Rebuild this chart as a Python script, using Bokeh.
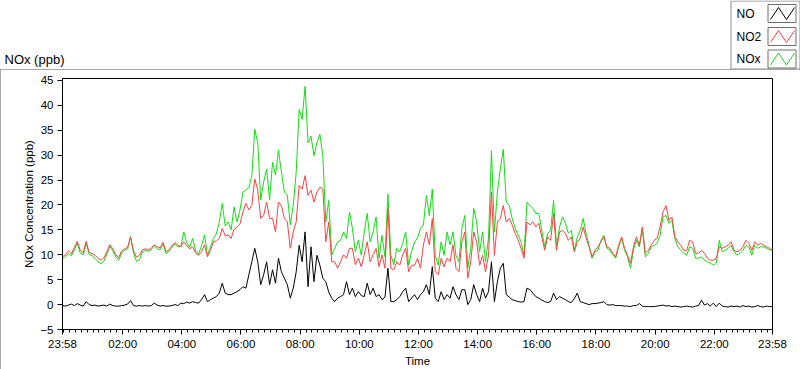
from bokeh.plotting import figure
from bokeh.models import Range1d, FixedTicker
from bokeh.core.properties import value
from bokeh.embed import file_html
from bokeh.resources import INLINE

# ---- data: minutes since 23:58, sampled every 6 minutes ----
minutes = list(range(0, 1441, 6))

no2 = [9.6,10.0,10.8,10.2,11.5,12.7,10.9,10.4,12.7,10.5,10.2,9.9,9.3,8.9,9.4,10.6,12.0,11.2,10.0,9.4,
       10.8,11.2,11.5,13.5,10.8,9.5,9.9,11.0,11.2,11.0,11.3,12.0,11.6,11.4,12.5,10.6,11.0,11.8,12.5,11.9,
       11.6,12.6,11.8,11.2,11.6,10.4,9.9,10.6,12.0,9.6,10.9,12.6,12.8,13.3,15.3,13.8,14.0,13.3,15.1,15.6,
       16.2,18.6,20.3,19.0,19.9,25.2,23.0,17.3,17.9,20.6,17.3,17.3,14.6,20.6,19.9,17.3,16.6,11.3,14.6,16.6,
       23.9,23.2,25.9,21.9,23.0,20.6,22.6,23.6,23.2,12.6,16.6,8.6,8.6,7.3,8.6,10.0,9.3,11.3,11.3,8.0,
       9.3,7.6,10.0,12.6,8.6,10.0,11.3,7.6,10.0,7.3,19.3,7.3,7.0,8.6,7.9,10.0,11.3,6.6,7.9,7.9,
       9.3,7.3,12.0,14.6,12.0,17.3,6.6,6.0,9.3,7.6,9.3,8.6,12.0,7.3,6.6,12.6,14.6,5.3,8.6,14.6,
       12.6,7.9,9.9,6.6,9.9,22.6,9.9,16.6,17.3,19.9,16.6,17.3,16.0,14.3,13.0,11.3,9.3,16.6,16.0,16.6,
       15.6,16.3,13.6,10.9,13.6,12.9,18.3,10.9,14.6,14.9,14.3,12.9,13.6,10.6,12.5,13.3,15.6,13.3,11.6,9.6,
       10.9,11.6,12.6,13.6,11.6,11.3,10.3,9.6,11.9,13.6,11.3,9.9,8.3,11.6,13.6,11.9,15.6,10.3,10.9,11.9,
       12.9,13.3,15.6,18.6,19.9,16.9,17.6,13.6,12.6,11.9,10.9,10.9,12.9,12.6,10.3,10.3,10.9,10.3,9.3,8.9,
       8.9,9.3,11.6,11.3,11.6,11.9,12.6,10.9,10.6,10.9,11.6,12.9,12.3,10.9,12.6,11.9,12.3,11.9,11.6,11.3,10.9]

nox = [9.3,9.6,10.2,9.8,11.0,12.3,10.3,10.0,12.4,10.1,9.8,9.3,8.6,8.2,8.7,10.2,11.7,10.8,9.6,8.9,
       10.4,10.9,11.2,13.7,10.4,8.7,9.0,10.6,10.9,10.7,11.0,11.8,11.2,11.0,12.2,10.2,10.7,11.5,12.2,11.6,
       11.7,14.6,12.4,11.5,13.3,10.8,10.1,11.8,14.0,9.9,11.5,13.3,14.2,16.6,20.3,15.8,16.6,15.0,19.6,16.6,
       19.0,22.6,23.0,23.5,25.9,35.2,32.5,21.0,24.6,27.2,21.0,28.6,26.0,31.0,26.6,22.6,22.0,16.0,20.0,26.6,
       39.2,37.2,43.8,32.5,33.8,29.9,32.5,34.2,29.9,16.6,20.9,10.0,11.3,12.6,12.9,14.6,13.3,18.6,15.3,10.6,
       12.9,9.9,14.6,18.3,12.6,14.6,17.6,9.3,13.9,9.6,22.2,9.9,8.0,11.3,10.6,12.3,14.6,7.9,10.6,12.6,
       13.3,15.3,16.0,21.9,17.9,23.2,9.9,7.9,12.6,9.9,14.6,12.0,14.6,9.9,8.6,15.3,17.9,7.3,11.3,19.3,
       16.6,10.6,14.6,8.6,13.3,30.9,14.6,22.6,27.2,31.2,20.6,19.9,17.3,15.3,14.0,12.6,9.9,20.6,19.9,19.3,
       18.3,18.3,14.9,11.6,14.3,14.9,20.9,11.6,15.6,17.6,16.3,14.3,14.9,10.9,13.5,14.9,17.3,14.3,11.9,9.3,
       10.6,10.9,12.9,13.9,11.3,10.9,10.0,9.3,11.6,13.3,10.9,9.6,7.3,11.0,12.9,11.6,15.3,9.6,10.3,11.6,
       11.9,12.3,13.9,17.6,17.9,16.3,16.9,13.3,11.6,10.9,10.3,9.9,11.6,11.3,9.3,9.3,9.6,8.9,8.6,8.3,
       7.9,8.3,12.9,10.6,10.9,11.3,11.9,10.6,9.9,10.3,10.9,11.9,11.6,9.9,11.9,11.3,11.6,11.6,11.3,11.0,10.9]

no = [-0.2,-0.3,-0.1,0.1,-0.2,0.2,-0.1,-0.3,0.6,0.0,-0.2,-0.1,-0.3,-0.2,-0.1,-0.3,0.1,-0.2,-0.3,-0.3,
      -0.2,-0.1,0.1,0.8,-0.2,-0.3,-0.2,-0.3,-0.2,-0.3,-0.2,0.3,-0.1,-0.3,-0.2,-0.3,-0.3,-0.2,0.0,-0.2,
      0.3,0.2,0.5,0.3,0.6,0.4,0.3,1.0,2.0,0.6,1.0,1.3,1.6,2.3,4.3,2.3,2.0,2.0,2.3,2.6,
      3.0,3.6,3.3,6.0,8.6,11.3,8.6,4.0,6.0,8.6,4.0,7.0,4.3,9.3,6.6,5.3,4.0,1.3,3.3,6.6,
      11.9,8.6,14.6,3.6,11.6,4.6,9.9,7.9,5.3,4.6,2.5,1.3,0.6,1.3,1.6,2.0,4.6,2.0,3.3,1.6,
      2.6,1.8,1.6,4.3,2.0,3.3,1.6,2.0,1.0,1.5,7.3,0.6,0.6,1.0,1.6,2.6,3.3,0.6,1.3,2.0,
      1.0,2.0,2.6,4.0,2.0,7.6,1.3,0.6,2.6,1.0,2.0,1.3,3.6,2.0,1.0,3.0,3.0,0.0,1.0,4.0,
      2.0,0.6,3.3,1.3,2.6,8.6,0.6,4.6,7.3,8.3,2.0,1.5,1.0,0.8,0.6,0.5,0.6,3.3,3.0,2.3,
      1.6,1.3,0.9,0.6,0.4,0.6,2.3,1.0,1.6,1.3,1.0,0.6,0.4,1.2,2.3,0.6,0.4,0.2,0.0,0.2,
      0.2,0.3,0.4,0.6,0.0,-0.1,0.0,-0.2,-0.2,-0.2,-0.3,-0.3,-0.4,-0.2,-0.2,0.2,-0.3,-0.4,-0.4,-0.4,
      -0.4,-0.3,-0.2,-0.1,-0.3,-0.2,-0.4,-0.3,-0.4,-0.5,-0.4,-0.3,-0.4,-0.5,-0.3,-0.2,0.9,-0.1,0.2,-0.3,
      0.3,-0.4,0.3,-0.3,-0.4,-0.5,-0.3,-0.4,-0.3,-0.5,-0.2,-0.4,-0.3,-0.5,-0.4,-0.2,-0.4,-0.5,-0.3,-0.4,-0.4]

assert len(no2) == len(minutes) and len(nox) == len(minutes) and len(no) == len(minutes)

tick_minutes = [0, 122, 242, 362, 482, 602, 722, 842, 962, 1082, 1202, 1322, 1440]
tick_labels = ["23:58", "02:00", "04:00", "06:00", "08:00", "10:00", "12:00",
               "14:00", "16:00", "18:00", "20:00", "22:00", "23:58"]
minor_minutes = list(range(2, 1440, 12))
y_ticks = [-5, 0, 5, 10, 15, 20, 25, 30, 35, 40, 45]

series_names = ["NO", "NO2", "NOx"]
series_colors = ["#000000", "#ff4040", "#10e010"]
chart_name = "NOx (ppb)"

FONT = "Liberation Sans"
FS = "11.5px"
PANEL = "#8c8c8c"

# ---------------- top strip: chart name + plot legend (its own root) ----------------
top = figure(width=800, height=69, output_backend="svg", toolbar_location=None,
             x_range=Range1d(0, 800), y_range=Range1d(69, 0),
             x_axis_type=None, y_axis_type=None, min_border=0)
top.grid.visible = False
top.outline_line_color = None
top.background_fill_color = "white"
top.border_fill_color = "white"

top.text(x=[4], y=[59], text=[chart_name], text_font=value(FONT), text_font_size=value("13px"),
         text_baseline="middle", text_align="left", text_color="black")

top.quad(left=[730.5], right=[799.5], top=[0.5], bottom=[68.5],
         fill_color="white", line_color=PANEL, line_width=1)
row_y = [13.0, 36.0, 58.5]
top.text(x=[736] * 3, y=row_y, text=series_names, text_font=value(FONT),
         text_font_size=value("12px"), text_baseline="middle", text_align="left", text_color="black")
top.quad(left=[767.5] * 3, right=[795.5] * 3, top=[c - 9 for c in row_y], bottom=[c + 9 for c in row_y],
         fill_color="white", line_color="#6e6e6e", line_width=1)
top.multi_line(xs=[[770, 778, 786, 794] for _ in row_y],
               ys=[[c + 6, c - 6, c + 6, c - 6] for c in row_y],
               line_color=series_colors, line_width=1)

# ---------------- main chart (second root) ----------------
p = figure(width=800, height=300, output_backend="svg", toolbar_location=None,
           x_range=Range1d(0, 1440), y_range=Range1d(-5, 45.4),
           min_border_left=62, min_border_right=28, min_border_top=9, min_border_bottom=39)
p.styles = {"outline": "1px solid " + PANEL, "outline-offset": "-1px"}
p.grid.visible = False
p.background_fill_color = "white"
p.border_fill_color = "white"
p.outline_line_color = "#000000"
p.outline_line_width = 1

for ax in (p.xaxis[0], p.yaxis[0]):
    ax.axis_line_color = "black"
    ax.major_tick_line_color = "black"
    ax.minor_tick_line_color = "black"
    ax.major_tick_in = 0
    ax.major_tick_out = 5
    ax.minor_tick_in = 0
    ax.minor_tick_out = 3
    ax.major_label_text_font = FONT
    ax.major_label_text_font_size = FS
    ax.major_label_text_color = "black"
    ax.axis_label_text_font = FONT
    ax.axis_label_text_font_size = FS
    ax.axis_label_text_font_style = "normal"
    ax.axis_label_text_color = "black"

p.xaxis.ticker = FixedTicker(ticks=tick_minutes, minor_ticks=minor_minutes)
p.xaxis.major_label_overrides = {t: l for t, l in zip(tick_minutes, tick_labels)}
p.xaxis.axis_label = "Time"
p.xaxis.major_label_standoff = 3
p.xaxis.axis_label_standoff = 2

p.yaxis.ticker = FixedTicker(ticks=y_ticks, minor_ticks=[])
p.yaxis.axis_label = "NOx Concentration (ppb)"
p.yaxis.major_label_standoff = 4
p.yaxis.axis_label_standoff = 2

# data lines (NOx below, NO2 above it, NO on top)
p.line(minutes, nox, line_color=series_colors[2], line_width=1)
p.line(minutes, no2, line_color=series_colors[1], line_width=1)
p.line(minutes, no, line_color=series_colors[0], line_width=1)

open("out.html", "w").write(file_html([top, p], INLINE))
